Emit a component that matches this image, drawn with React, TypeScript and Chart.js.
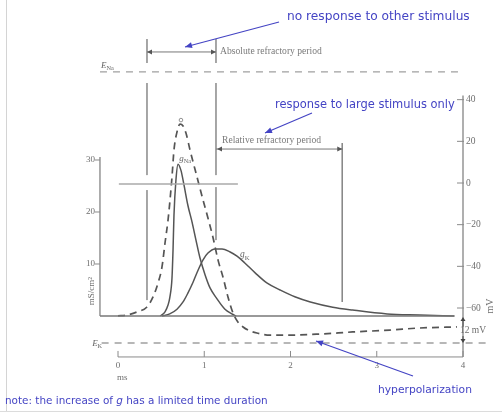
import React, { useEffect, useRef } from "react";
import { Chart, registerables } from "chart.js";
Chart.register(...registerables);

// ---------------- data ----------------
// Sodium conductance gNa (mS/cm²) vs time (ms)
const gNaTime = [0.49, 0.545, 0.58, 0.6, 0.626, 0.638, 0.649, 0.672, 0.696, 0.73, 0.765, 0.81, 0.858, 0.904, 0.95, 1.01, 1.067, 1.148, 1.24, 1.32, 1.37];
const gNaValues = [0, 0.8, 2.1, 3.5, 7.3, 12.7, 19.4, 26.2, 29.2, 28, 25.2, 21.3, 18.1, 14.6, 11.2, 7.9, 5.4, 3.3, 1.3, 0.4, 0];
// Potassium conductance gK (mS/cm²)
const gKTime = [0.51, 0.6, 0.684, 0.754, 0.81, 0.87, 0.928, 0.986, 1.043, 1.125, 1.206, 1.3, 1.38, 1.47, 1.59, 1.73, 1.88, 2.05, 2.23, 2.49, 2.72, 3.12, 3.5, 3.9];
const gKValues = [0, 0.4, 1.3, 2.7, 4.4, 6.5, 8.8, 10.8, 12.1, 12.9, 12.9, 12.3, 11.5, 10.2, 8.3, 6.3, 5, 3.7, 2.7, 1.7, 1.15, 0.4, 0.2, 0];
// Membrane potential V (mV)
const vTime = [0, 0.1, 0.22, 0.336, 0.406, 0.464, 0.51, 0.545, 0.58, 0.603, 0.626, 0.649, 0.684, 0.72, 0.754, 0.788, 0.835, 0.916, 0.986, 1.043, 1.1, 1.16, 1.217, 1.275, 1.333, 1.39, 1.45, 1.53, 1.61, 1.76, 2.0, 2.34, 2.72, 3.15, 3.5, 3.93];
const vValues = [-63.8, -63.4, -61.9, -59.5, -54.7, -48, -40.3, -28.8, -17.8, -8.2, 2.9, 15.8, 24.5, 28.3, 27.4, 24, 15.8, 2.9, -8.2, -16.8, -25.9, -37, -45.1, -54.7, -62.4, -66.7, -69.1, -71, -72, -73, -73, -72.5, -71.5, -70.6, -69.6, -69.1];
const vPeak = [0.73, 30.2];
// conductance baseline span (ms)
const baselineTime = [-0.209, 3.9];
// reversal potentials (mV)
const E_NA = 53.3;
const E_K = -76.8;
const eNaSpan = [-0.209, 3.97];
const eKSpan = [-0.19, 4.3];
// refractory periods (ms): absolute start, absolute end / relative start, relative end
const refractoryTimes = [0.336, 1.136, 2.6];
// threshold line (mV) and span (ms)
const thresholdMv = -0.5;
const thresholdSpan = [0.01, 1.39];
// ticks
const gTicks = [10, 20, 30];
const mvTicks = [40, 20, 0, -20, -40, -60];
const msTicks = [0, 1, 2, 3, 4];
const hyperpolMv = [-64.3, -76.8]; // "12 mV" span arrows

// ---------------- view (scale ranges) ----------------
const X_MIN = -1.36812, X_MAX = 4.45217;
const G_MIN = -18.654, G_MAX = 60.769;
const V_MIN = -110.4, V_MAX = 87.84;

const GRAY_CURVE = "#555";
const GRAY_THIN = "#9a9a9a";
const GRAY_TEXT = "#6e6e6e";
const BLUE = "#4444c4";
const SERIF = '"Liberation Serif", "DejaVu Serif", serif';
const SANS = '"DejaVu Sans", Verdana, sans-serif';

const pts = (xs: number[], ys: number[]) => xs.map((x, i) => ({ x, y: ys[i] }));

function seg(x1: number, y1: number, x2: number, y2: number, axis: string, color: string, width: number, dash: number[] = []) {
  return {
    data: [{ x: x1, y: y1 }, { x: x2, y: y2 }],
    yAxisID: axis,
    borderColor: color,
    borderWidth: width,
    borderDash: dash,
    pointRadius: 0,
    tension: 0,
    fill: false,
  };
}

function arrowHead(ctx: CanvasRenderingContext2D, x1: number, y1: number, x2: number, y2: number, len: number, half: number, color: string) {
  const a = Math.atan2(y2 - y1, x2 - x1);
  ctx.save();
  ctx.fillStyle = color;
  ctx.beginPath();
  ctx.moveTo(x2, y2);
  ctx.lineTo(x2 - len * Math.cos(a) + half * Math.sin(a), y2 - len * Math.sin(a) - half * Math.cos(a));
  ctx.lineTo(x2 - len * Math.cos(a) - half * Math.sin(a), y2 - len * Math.sin(a) + half * Math.cos(a));
  ctx.closePath();
  ctx.fill();
  ctx.restore();
}

function line(ctx: CanvasRenderingContext2D, x1: number, y1: number, x2: number, y2: number, color: string, w: number) {
  ctx.save();
  ctx.strokeStyle = color;
  ctx.lineWidth = w;
  ctx.beginPath();
  ctx.moveTo(x1, y1);
  ctx.lineTo(x2, y2);
  ctx.stroke();
  ctx.restore();
}

// draw runs of [text, italic] fitted to a target width
function fillRuns(ctx: CanvasRenderingContext2D, runs: [string, boolean][], x: number, y: number, targetW: number, family: string) {
  const base = 11;
  let w = 0;
  runs.forEach(([s, it]) => {
    ctx.font = `${it ? "italic " : ""}${base}px ${family}`;
    w += ctx.measureText(s).width;
  });
  const size = (base * targetW) / w;
  let cx = x;
  runs.forEach(([s, it]) => {
    ctx.font = `${it ? "italic " : ""}${size}px ${family}`;
    ctx.fillText(s, cx, y);
    cx += ctx.measureText(s).width;
  });
}

const annotPlugin = {
  id: "annot",
  beforeDraw(chart: any) {
    const ctx: CanvasRenderingContext2D = chart.ctx;
    ctx.save();
    ctx.fillStyle = "#fff";
    ctx.fillRect(0, 0, chart.width, chart.height);
    ctx.restore();
  },
  afterDatasetsDraw(chart: any) {
    const ctx: CanvasRenderingContext2D = chart.ctx;
    const sx = chart.scales.x, sv = chart.scales.yV, sg = chart.scales.yG;
    const X = (t: number) => sx.getPixelForValue(t);
    const V = (v: number) => sv.getPixelForValue(v);
    const G = (g: number) => sg.getPixelForValue(g);

    // picture frame (scan edge)
    line(ctx, 6.5, 0, 6.5, 411, "#d4d4d4", 1);
    line(ctx, 0, 411.5, chart.width, 411.5, "#dcdcdc", 1);

    ctx.save();
    // ---- left axis (conductance) ----
    const lx = X(baselineTime[0]);
    line(ctx, lx, G(30.6), lx, G(0), "#7a7a7a", 1.2);
    ctx.font = `9px ${SERIF}`;
    ctx.fillStyle = GRAY_TEXT;
    ctx.textAlign = "right";
    ctx.textBaseline = "middle";
    gTicks.forEach((t) => {
      line(ctx, lx - 5, G(t), lx, G(t), "#8a8a8a", 1);
      ctx.fillText(String(t), lx - 5, G(t));
    });
    ctx.save();
    ctx.translate(X(-0.31), G(4.8));
    ctx.rotate(-Math.PI / 2);
    ctx.textAlign = "center";
    ctx.font = `9px ${SERIF}`;
    ctx.fillText("mS/cm²", 0, 0);
    ctx.restore();

    // ---- right axis (mV) ----
    const rx = X(4);
    const axisBottomMv = -83.5;
    line(ctx, rx, V(42), rx, V(axisBottomMv), "#7a7a7a", 1.2);
    ctx.textAlign = "left";
    ctx.font = `9.5px ${SERIF}`;
    mvTicks.forEach((t) => {
      line(ctx, rx - 6, V(t), rx + 1, V(t), "#8a8a8a", 1);
      ctx.fillText(t < 0 ? "\u2212" + Math.abs(t) : String(t), rx + 3, V(t));
    });
    ctx.save();
    ctx.translate(X(4.313), V(-59));
    ctx.rotate(-Math.PI / 2);
    ctx.textAlign = "center";
    ctx.font = `10px ${SERIF}`;
    ctx.fillText("mV", 0, 0);
    ctx.restore();

    // "12 mV" marker
    line(ctx, rx, V(-69), rx, V(hyperpolMv[0]) + 3, "#444", 1);
    arrowHead(ctx, rx, V(-69), rx, V(hyperpolMv[0]), 4, 2.5, "#444");
    line(ctx, rx, V(-73.5), rx, V(hyperpolMv[1]) - 3, "#444", 1);
    arrowHead(ctx, rx, V(-73.5), rx, V(hyperpolMv[1]), 4, 2.5, "#444");
    ctx.font = `9.5px ${SERIF}`;
    ctx.fillStyle = GRAY_TEXT;
    ctx.textAlign = "left";
    ctx.fillText("12 mV", X(3.965), V(-71));

    // ---- x axis (ms) ----
    line(ctx, X(0), V(axisBottomMv), X(4), V(axisBottomMv), "#8a8a8a", 1);
    ctx.textAlign = "center";
    ctx.textBaseline = "middle";
    ctx.font = `9px ${SERIF}`;
    msTicks.forEach((t) => {
      line(ctx, X(t), V(axisBottomMv) - 6, X(t), V(axisBottomMv), "#8a8a8a", 1);
      ctx.fillText(String(t), X(t), V(axisBottomMv) + 9);
    });
    ctx.fillText("ms", X(0.05), V(-93.6));

    // ---- reversal potential / conductance labels ----
    const drawSub = (main: string, sub: string, x: number, y: number, size: number) => {
      ctx.textAlign = "left";
      ctx.textBaseline = "alphabetic";
      ctx.font = `italic ${size}px ${SERIF}`;
      ctx.fillText(main, x, y);
      const w = ctx.measureText(main).width;
      ctx.font = `${size * 0.7}px ${SERIF}`;
      ctx.fillText(sub, x + w, y + size * 0.25);
    };
    ctx.fillStyle = "#666";
    drawSub("E", "Na", X(-0.197), V(55.2), 9);
    drawSub("E", "K", X(-0.30), V(-78.3), 9);
    drawSub("g", "Na", X(0.71), G(29.8), 9);
    drawSub("g", "K", X(1.415), G(11.3), 9.5);

    // ---- refractory arrows ----
    const [a0, a1, a2] = refractoryTimes;
    const absY = V(62.9);
    line(ctx, X(a0), absY, X(a1), absY, "#777", 1);
    arrowHead(ctx, X(a1), absY, X(a0), absY, 5, 2.5, "#555");
    arrowHead(ctx, X(a0), absY, X(a1), absY, 5, 2.5, "#555");
    const relY = V(16.3);
    line(ctx, X(a1), relY, X(a2), relY, "#777", 1);
    arrowHead(ctx, X(a2), relY, X(a1) + 1, relY, 5, 2.5, "#555");
    arrowHead(ctx, X(a1), relY, X(a2), relY, 5, 2.5, "#555");
    ctx.fillStyle = "#7a7a7a";
    ctx.font = `9.6px ${SERIF}`;
    ctx.textAlign = "left";
    ctx.textBaseline = "middle";
    ctx.fillText("Absolute refractory period", X(1.183), absY);
    ctx.fillText("Relative refractory period", X(1.206), V(20.6));

    // ---- blue annotations ----
    ctx.fillStyle = BLUE;
    ctx.textBaseline = "middle";
    ctx.textAlign = "left";
    fillRuns(ctx, [["no response to other stimulus", false]], X(1.959), V(79.68), 183, SANS);
    fillRuns(ctx, [["response to large stimulus only", false]], X(1.82), V(37.44), 180, SANS);
    fillRuns(ctx, [["hyperpolarization", false]], X(3.014), V(-99.36), 94, SANS);
    fillRuns(
      ctx,
      [["note: the increase of ", false], ["g", true], [" has a limited time duration", false]],
      X(-1.31),
      V(-104.64),
      263,
      SANS
    );
    const blueArrow = (t1: number, v1: number, t2: number, v2: number) => {
      const x1 = X(t1), y1 = V(v1), x2 = X(t2), y2 = V(v2);
      line(ctx, x1, y1, x2, y2, BLUE, 1.2);
      arrowHead(ctx, x1, y1, x2, y2, 7, 3, BLUE);
    };
    blueArrow(1.867, 77.28, 0.777, 65.28);
    blueArrow(2.249, 33.6, 1.704, 24.0);
    blueArrow(3.42, -92.64, 2.296, -75.84);

    // peak marker
    ctx.strokeStyle = "#777";
    ctx.lineWidth = 0.8;
    ctx.beginPath();
    ctx.arc(X(vPeak[0]), V(vPeak[1]), 1.8, 0, Math.PI * 2);
    ctx.stroke();

    ctx.restore();
  },
};

export default function App() {
  const ref = useRef<HTMLCanvasElement | null>(null);
  useEffect(() => {
    if (!ref.current) return;
    const [a0, a1, a2] = refractoryTimes;
    const datasets: any[] = [
      // refractory boundary lines (broken where labels/lines cross in the original)
      seg(a0, 69.1, a0, 57.6, "yV", GRAY_THIN, 1),
      seg(a0, 48, a0, 3.8, "yV", GRAY_THIN, 1),
      seg(a0, -3.4, a0, -56.2, "yV", GRAY_THIN, 1),
      seg(a1, 69.1, a1, 57.6, "yV", GRAY_THIN, 1),
      seg(a1, 48, a1, 3.8, "yV", GRAY_THIN, 1),
      seg(a1, -2.0, a1, -27.4, "yV", GRAY_THIN, 1),
      seg(a2, 19.2, a2, -57.1, "yV", "#888", 1),
      // threshold
      seg(thresholdSpan[0], thresholdMv, thresholdSpan[1], thresholdMv, "yV", "#aaa", 1.5),
      // reversal potentials
      seg(eNaSpan[0], E_NA, eNaSpan[1], E_NA, "yV", "#a0a0a0", 1.3, [7, 6]),
      seg(eKSpan[0], E_K, eKSpan[1], E_K, "yV", "#a0a0a0", 1.3, [7, 6]),
      // conductance baseline
      seg(baselineTime[0], 0, baselineTime[1], 0, "yG", "#777", 1.3),
      {
        label: "gNa",
        data: pts(gNaTime, gNaValues),
        yAxisID: "yG",
        borderColor: GRAY_CURVE,
        borderWidth: 1.5,
        pointRadius: 0,
        cubicInterpolationMode: "monotone",
        fill: false,
      },
      {
        label: "gK",
        data: pts(gKTime, gKValues),
        yAxisID: "yG",
        borderColor: GRAY_CURVE,
        borderWidth: 1.5,
        pointRadius: 0,
        cubicInterpolationMode: "monotone",
        fill: false,
      },
      {
        label: "V",
        data: pts(vTime, vValues),
        yAxisID: "yV",
        borderColor: "#555",
        borderWidth: 1.7,
        borderDash: [7, 5],
        pointRadius: 0,
        cubicInterpolationMode: "monotone",
        fill: false,
      },
    ];
    const chart = new Chart(ref.current, {
      type: "line",
      data: { datasets },
      options: {
        responsive: false,
        animation: false,
        events: [],
        layout: { padding: 0, autoPadding: false } as any,
        plugins: { legend: { display: false }, tooltip: { enabled: false } },
        scales: {
          x: { type: "linear", min: X_MIN, max: X_MAX, display: false },
          yG: { type: "linear", position: "left", min: G_MIN, max: G_MAX, display: false },
          yV: { type: "linear", position: "right", min: V_MIN, max: V_MAX, display: false },
        },
      },
      plugins: [annotPlugin],
    });
    return () => chart.destroy();
  }, []);
  return (
    <div style={{ position: "absolute", left: 0, top: 0, width: 502, height: 413 }}>
      <canvas ref={ref} width={502} height={413} style={{ display: "block", width: 502, height: 413 }} />
    </div>
  );
}
